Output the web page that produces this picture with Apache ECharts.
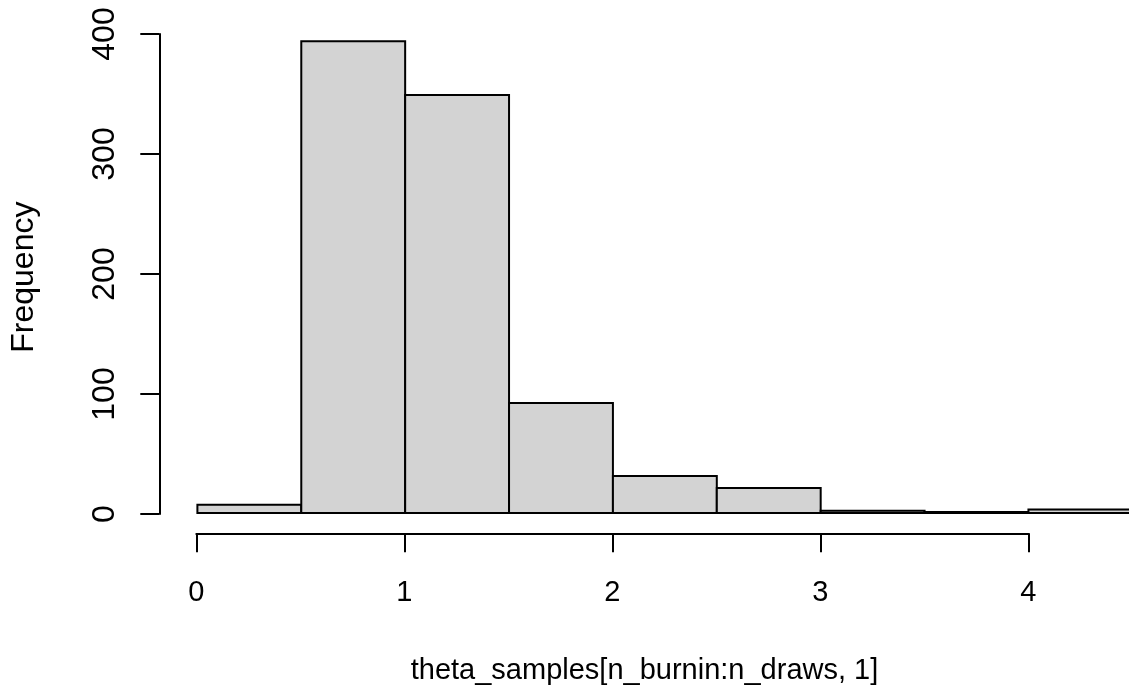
<!DOCTYPE html>
<html>
<head>
<meta charset="utf-8">
<script src="https://cdn.jsdelivr.net/npm/echarts@6/dist/echarts.min.js"></script>
<style>
  html, body { margin: 0; padding: 0; background: #ffffff; }
  #chart { width: 1129px; height: 690px; }
</style>
</head>
<body>
<div id="chart"></div>
<script>
// Histogram of posterior draws, bins of width 0.5
const breaks = [0, 0.5, 1, 1.5, 2, 2.5, 3, 3.5, 4, 4.5];
const counts = [7, 394, 349, 92, 31, 21, 2, 1, 3];
const xTicks = [0, 1, 2, 3, 4];
const yTicks = [0, 100, 200, 300, 400];
const xTitle = 'theta_samples[n_burnin:n_draws, 1]';
const yTitle = 'Frequency';

const bins = counts.map((c, i) => [breaks[i], breaks[i + 1], c]);

// plotting region extends 4% beyond the data range (the right side runs off the page)
const xLo = breaks[0], xHi = breaks[breaks.length - 1];
const yHi = Math.max(...counts);
const xPad = (xHi - xLo) * 0.04, yPad = yHi * 0.04;

const font = '"Liberation Sans", Arial, Helvetica, sans-serif';
const fs = 29;      // horizontal text
const fsRot = 32;   // rotated text

const hiddenAxis = {
  show: true,
  axisLine: { show: false }, axisTick: { show: false },
  axisLabel: { show: false }, splitLine: { show: false }
};

const chart = echarts.init(document.getElementById('chart'), null, { renderer: 'canvas' });

chart.setOption({
  backgroundColor: '#ffffff',
  animation: false,
  grid: [
    // data region, clipped by the right edge of the page
    { left: 159.3, top: 22.3, right: 0, height: 510.6 },
    // x axis spanning first to last tick
    { left: 196.3, top: 22.3, width: 832, height: 511 },
    // y axis spanning first to last tick
    { left: 159.3, top: 34, width: 832, height: 480 }
  ],
  xAxis: [
    Object.assign({}, hiddenAxis, {
      gridIndex: 0, type: 'value', min: xLo - xPad, max: 4.484,
      name: xTitle, nameLocation: 'middle', nameGap: 124,
      nameTextStyle: { color: '#000', fontSize: fs, fontFamily: font }
    }),
    {
      gridIndex: 1, type: 'value', min: xTicks[0], max: xTicks[xTicks.length - 1], interval: 1,
      position: 'bottom',
      axisLine: { show: true, lineStyle: { color: '#000', width: 2 } },
      axisTick: { show: true, length: 19, lineStyle: { color: '#000', width: 2 } },
      axisLabel: { show: true, margin: 45, color: '#000', fontSize: fs, fontFamily: font,
                   formatter: v => String(v) },
      splitLine: { show: false }
    },
    { gridIndex: 2, type: 'value', min: 0, max: 1, show: false }
  ],
  yAxis: [
    Object.assign({}, hiddenAxis, {
      gridIndex: 0, type: 'value', min: -yPad, max: yHi + yPad,
      name: yTitle, nameLocation: 'middle', nameGap: 120, nameRotate: 90,
      nameTextStyle: { color: '#000', fontSize: fsRot, fontFamily: font }
    }),
    { gridIndex: 1, type: 'value', min: 0, max: 1, show: false },
    {
      gridIndex: 2, type: 'value', min: yTicks[0], max: yTicks[yTicks.length - 1], interval: 100,
      position: 'left',
      axisLine: { show: true, lineStyle: { color: '#000', width: 2 } },
      axisTick: { show: true, length: 19, lineStyle: { color: '#000', width: 2 } },
      axisLabel: { show: true, rotate: 90, margin: 38, color: '#000', fontSize: fsRot, fontFamily: font },
      splitLine: { show: false }
    }
  ],
  series: [{
    type: 'custom',
    xAxisIndex: 0,
    yAxisIndex: 0,
    clip: false,
    data: bins,
    encode: { x: [0, 1], y: 2 },
    renderItem: function (params, api) {
      const topLeft = api.coord([api.value(0), api.value(2)]);
      const botRight = api.coord([api.value(1), 0]);
      return {
        type: 'rect',
        shape: {
          x: topLeft[0], y: topLeft[1],
          width: botRight[0] - topLeft[0], height: botRight[1] - topLeft[1]
        },
        style: { fill: '#d3d3d3', stroke: '#000', lineWidth: 2 }
      };
    }
  }]
});
</script>
</body>
</html>
